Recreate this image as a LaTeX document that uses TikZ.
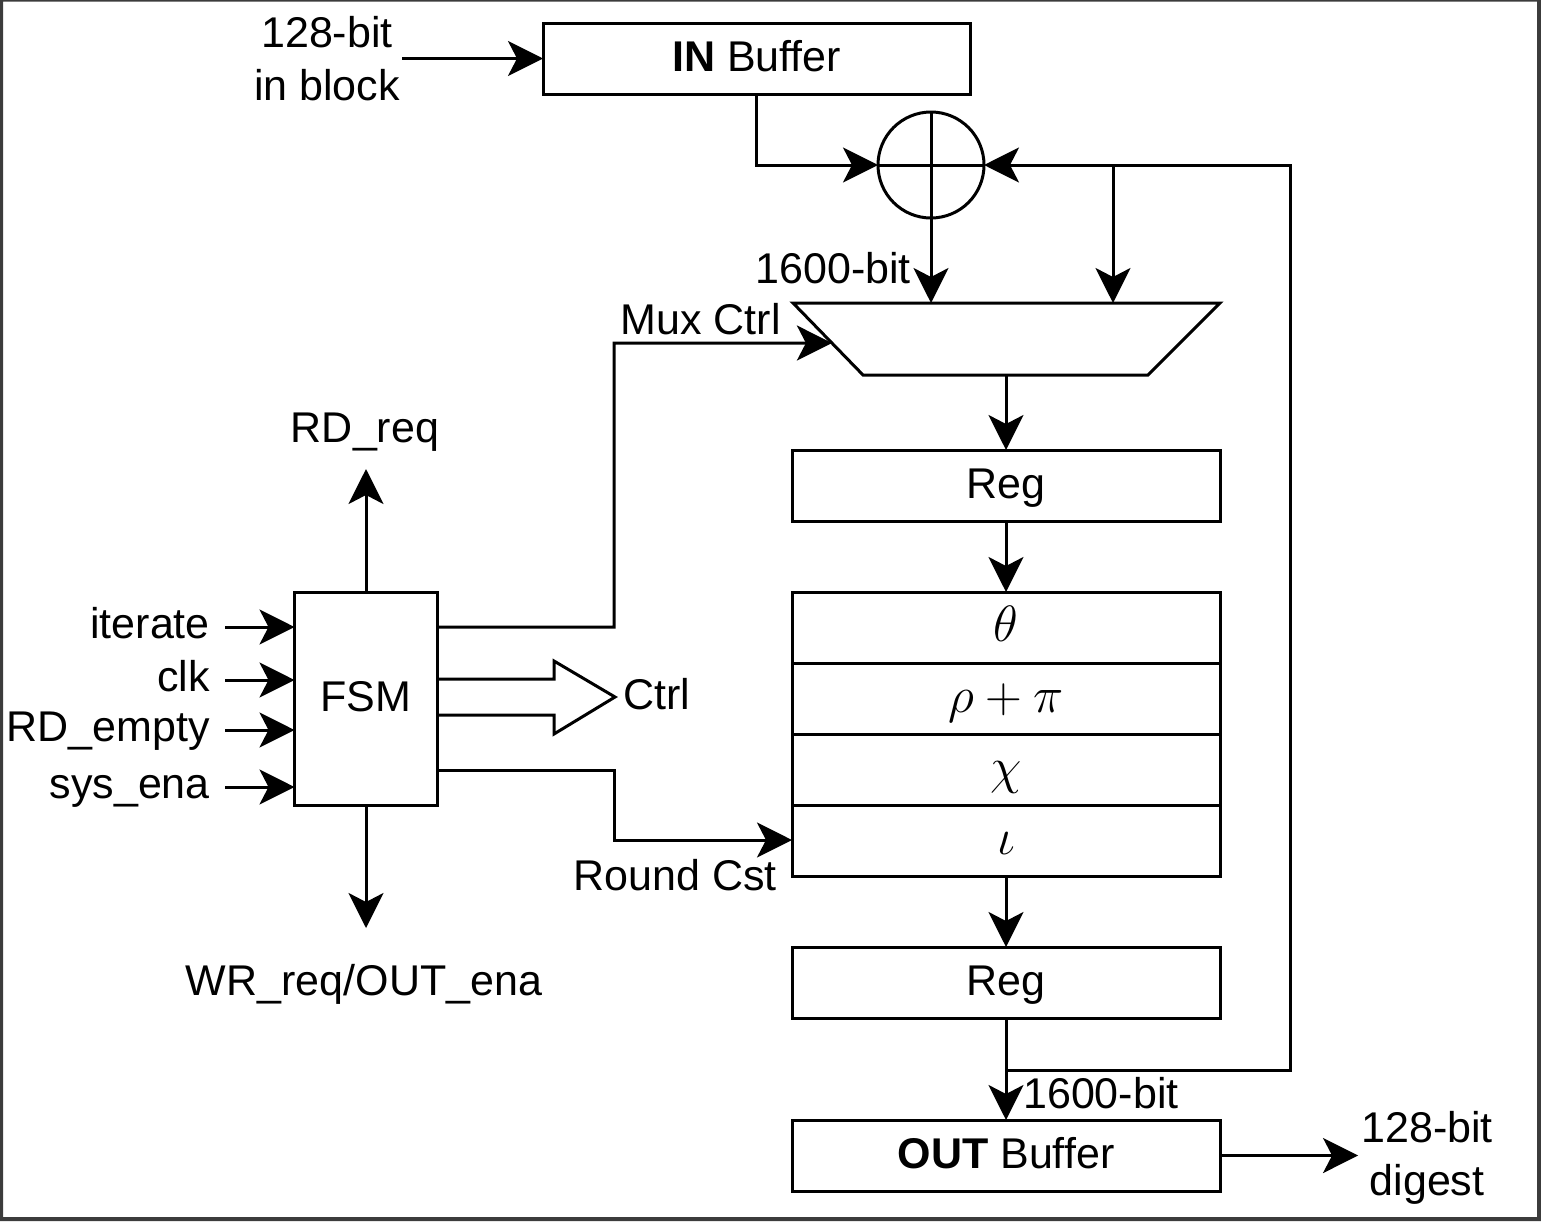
\RequirePackage{fix-cm}
\documentclass[tikz,border=0pt]{standalone}
\usepackage{fontspec}
\setmainfont{Liberation Sans}
\usetikzlibrary{arrows.meta, positioning, calc}
\definecolor{FrameGray}{HTML}{3C3C3C}

\begin{document}
\begin{tikzpicture}[x=1pt, y=-1pt,
        blk/.style={draw, line width=3pt, outer sep=0pt, inner sep=0pt, minimum width=428pt, minimum height=71pt, text height=30pt, text depth=4pt, font=\fontsize{43}{50}\selectfont},
        op/.style={blk, text height=32pt, font=\fontsize{51}{58}\selectfont},
        lbl/.style={inner sep=0pt, align=center, font=\fontsize{43}{53}\selectfont},
        wire/.style={line width=3pt},
        arr/.style={-{Stealth[length=35pt, width=35pt, inset=9pt]}, line width=3pt}
    ]
    \useasboundingbox (0,0) rectangle (1541,1221);
    % frame
    \fill[FrameGray, even odd rule] (0,0) rectangle (1541,1221) (3,1.5) rectangle (1537,1217);

    % Nodes
    \node[blk, minimum width=427pt] (inbuf) at (756.5,58.5) {\textbf{IN} Buffer};
    \node[lbl] (inblk) at (327,59) {128-bit\\in block};
    \node[draw, circle, line width=3pt, outer sep=0pt, inner sep=0pt, minimum size=106pt] (xor) at (931,165) {};
    \draw[wire] (xor.north) -- (xor.south) (xor.west) -- (xor.east);

    % mux
    \coordinate (muxtl) at (793,303);
    \coordinate (muxtr) at (1220,303);
    \coordinate (muxbr) at (1148,375);
    \coordinate (muxbl) at (863,375);
    \draw[wire] (muxtl) -- (muxtr) -- (muxbr) -- (muxbl) -- cycle;
    \coordinate (muxa) at (931,303);
    \coordinate (muxb) at (1113,303);
    \coordinate (muxout) at (1006,375);
    \coordinate (muxsel) at ($(muxtl)!0.556!(muxbl)$);

    \node[blk] (reg1) at (1006,485.5) {Reg};
    \node[op, below=71pt of reg1] (theta) {$\theta$};
    \node[op, below=0pt of theta] (rhopi) {$\rho+\pi$};
    \node[op, below=0pt of rhopi] (chi) {$\chi$};
    \node[op, below=0pt of chi] (iota) {$\iota$};
    \node[blk, below=71pt of iota] (reg2) {Reg};
    \node[blk, below=102pt of reg2] (outbuf) {\textbf{OUT} Buffer};
    \node[lbl] (digest) at (1427,1158) {128-bit\\digest};

    \node[draw, line width=3pt, outer sep=0pt, minimum width=143pt, minimum height=213pt, text height=30pt, text depth=4pt, font=\fontsize{43}{50}\selectfont] (fsm) at (366,698.5) {FSM};

    % Labels
    \node[lbl, anchor=base east] (bits1) at (911,283) {1600-bit};
    \node[lbl, anchor=base east] (muxctrl) at (781,334) {Mux Ctrl};
    \node[lbl, anchor=base] (rdreq) at (365,442) {RD\_req};
    \node[lbl, anchor=base] (wrreq) at (364,995) {WR\_req/OUT\_ena};
    \node[lbl, anchor=base west] (ctrl) at (623,709) {Ctrl};
    \node[lbl, anchor=base east] (rcst) at (777,890) {Round Cst};
    \node[lbl, anchor=base west] (bits2) at (1023,1108) {1600-bit};

    % FSM inputs
    \foreach \y/\txt/\n in {627/iterate/itr, 680/clk/clk, 730/RD\_empty/rde, 787/sys\_ena/sys} {
        \coordinate (\n) at (225,\y);
        \node[lbl, anchor=base east] at (210,\y+11) {\txt};
        \draw[arr] (\n) -- (fsm.west |- \n);
    }

    % Connections
    \draw[arr, shorten <=2pt] (inblk.east |- inbuf) -- (inbuf.west);
    \draw[arr] (inbuf.south) |- (xor.west);
    \draw[arr] (xor.south) -- (muxa);
    \draw[arr] (reg2.south) -- (outbuf.north);
    \draw[arr] (reg2.south) ++(0,52) -| (1290,165) -- (xor.east);
    \draw[arr] (1113,165) -- (muxb);
    \draw[arr] (muxout) -- (reg1.north);
    \draw[arr] (reg1.south) -- (theta.north);
    \draw[arr] (iota.south) -- (reg2.north);
    \draw[arr, shorten >=3pt] (outbuf.east) -- (digest.west |- outbuf);
    \draw[arr] (fsm.north) -- (366,469);
    \draw[arr] (fsm.south) -- (366,928);
    \draw[arr] (fsm.east |- 0,627) -| (614,343) -- (muxsel);
    \draw[arr] (fsm.east |- 0,770) -| (614,840) -- (iota.west |- 0,840);
    % Ctrl bus arrow
    \draw[wire, line join=miter] (fsm.east |- 0,679) -- (554,679) -- (554,661) -- (615,697) -- (554,734) -- (554,715) -- (fsm.east |- 0,715);
\end{tikzpicture}
\end{document}
